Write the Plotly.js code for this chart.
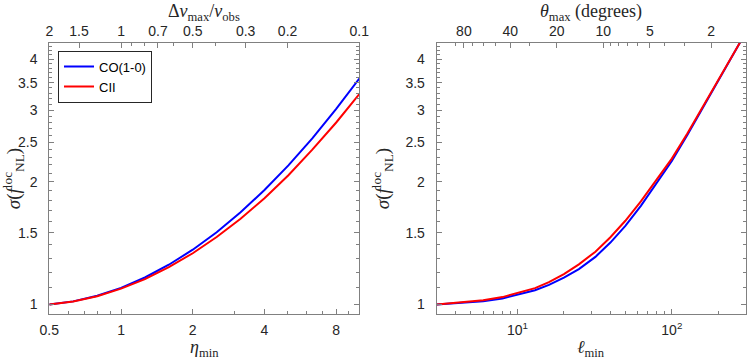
<!DOCTYPE html>
<html>
<head>
<meta charset="utf-8">
<script src="https://cdn.plot.ly/plotly-3.0.1.min.js"></script>
<style>
  html, body { margin: 0; padding: 0; background: #fff; }
  #chart { width: 747px; height: 359px; }
</style>
</head>
<body>
<div id="chart"></div>
<script>
// Left panel: sigma(fNL) against eta_min
const eta = [0.5, 0.63, 0.794, 1, 1.26, 1.587, 2, 2.52, 3.175, 4, 5.04, 6.35, 8, 10];
const sigmaCO = [1.000, 1.018, 1.051, 1.099, 1.165, 1.252, 1.363, 1.504, 1.684, 1.909, 2.194, 2.557, 3.018, 3.584];
const sigmaCII = [1.000, 1.018, 1.048, 1.094, 1.154, 1.235, 1.336, 1.464, 1.623, 1.823, 2.076, 2.398, 2.796, 3.283];

// Right panel: sigma(fNL) against ell_min
const ell = [3, 4, 5, 6, 8, 10, 13, 16, 20, 25, 32, 40, 50, 63, 80, 100, 126, 158, 200, 251, 280];
const sigmaCOell = [1.000, 1.007, 1.012, 1.019, 1.035, 1.057, 1.084, 1.117, 1.164, 1.222, 1.309, 1.419, 1.560, 1.746, 1.986, 2.249, 2.606, 3.027, 3.532, 4.111, 4.43];
const sigmaCIIell = [1.000, 1.009, 1.016, 1.024, 1.043, 1.066, 1.097, 1.135, 1.188, 1.255, 1.348, 1.462, 1.605, 1.790, 2.025, 2.280, 2.628, 3.040, 3.540, 4.111, 4.43];

// Tick labels
const etaTicks = [0.5, 1, 2, 4, 8];
const etaMinor = [0.6, 0.7, 0.8, 0.9, 3, 5, 6, 7, 9];
const dnuLabels = [2, 1.5, 1, 0.7, 0.5, 0.3, 0.2, 0.1];
const dnuMinor = [0.4, 0.6, 0.8, 0.9];
const ellTicks = [10, 100];
const ellMinor = [4, 5, 6, 7, 8, 9, 20, 30, 40, 50, 60, 70, 80, 90, 200];
const thetaLabels = [80, 40, 20, 10, 5, 2];
const thetaMinor = [90, 70, 60, 50, 30, 9, 8, 7, 6, 4, 3];
const sigmaTicks = [1, 1.5, 2, 2.5, 3, 3.5, 4];
const sigmaMinor = [];
for (let v = 10; v <= 43; v++) if (v % 5) sigmaMinor.push(v / 10);

const LINE = "#808080", TXT = "#262626";
const tickFont = { family: "Liberation Sans, Arial, sans-serif", size: 14, color: TXT };
const titleFont = { family: "Liberation Serif, Times New Roman, serif", size: 18, color: TXT };
const sigmaRange = [Math.log10(0.948), Math.log10(4.38)];
const LEFT_DOM = [0.066, 0.481], RIGHT_DOM = [0.5846, 0.998];
const PLOT_H = 359 - 43 - 45;

function xBase(extra) {
  return Object.assign({
    type: "log", showline: true, linecolor: LINE, linewidth: 1,
    ticks: "inside", ticklen: 5, tickcolor: LINE, showgrid: false, zeroline: false,
    tickfont: tickFont, ticklabelstandoff: 3, fixedrange: true,
  }, extra);
}
function yBase(extra) {
  return Object.assign({
    type: "log", range: sigmaRange, showline: true, linecolor: LINE, linewidth: 1,
    mirror: "ticks", ticks: "inside", ticklen: 5, tickcolor: LINE,
    showgrid: false, zeroline: false, tickfont: tickFont,
    tickvals: sigmaTicks, ticktext: sigmaTicks.map(String), ticklabelstandoff: 8,
    minor: { tickvals: sigmaMinor, ticks: "inside", ticklen: 3, tickcolor: LINE },
    title: { text: "<i>σ</i>(<i>f</i><sup>loc</sup><sub>NL</sub>)", font: Object.assign({}, titleFont, { size: 19 }) },
  }, extra);
}

// axis titles placed as annotations (centre y in page pixels)
function axisTitle(text, dom, yPx) {
  return {
    text, font: titleFont, showarrow: false,
    xref: "paper", yref: "paper", x: (dom[0] + dom[1]) / 2,
    y: (359 - 45 - yPx) / PLOT_H, xanchor: "center", yanchor: "middle",
  };
}

const traces = [
  { x: eta, y: sigmaCO, name: "CO(1-0)", mode: "lines", line: { color: "#0000ff", width: 2 }, xaxis: "x", yaxis: "y" },
  { x: eta, y: sigmaCII, name: "CII", mode: "lines", line: { color: "#ff0000", width: 2 }, xaxis: "x", yaxis: "y" },
  { x: ell, y: sigmaCOell, name: "CO(1-0)", mode: "lines", line: { color: "#0000ff", width: 2 }, xaxis: "x2", yaxis: "y2", showlegend: false },
  { x: ell, y: sigmaCIIell, name: "CII", mode: "lines", line: { color: "#ff0000", width: 2 }, xaxis: "x2", yaxis: "y2", showlegend: false },
  // empty carriers so the top axes get drawn
  { x: eta, y: sigmaCO, mode: "none", xaxis: "x3", yaxis: "y", showlegend: false, hoverinfo: "skip" },
  { x: ell, y: sigmaCOell, mode: "none", xaxis: "x4", yaxis: "y2", showlegend: false, hoverinfo: "skip" },
];

const layout = {
  width: 747, height: 359, autosize: false,
  margin: { l: 0, r: 0, t: 43, b: 45 },
  paper_bgcolor: "#fff", plot_bgcolor: "#fff",
  showlegend: true,
  legend: {
    x: 58 / 747, y: 0.972, xanchor: "left", yanchor: "top",
    bgcolor: "#fff", bordercolor: TXT, borderwidth: 1,
    font: { family: "Liberation Sans, Arial, sans-serif", size: 13, color: "#000" },
    itemwidth: 30, tracegroupgap: 0,
  },
  xaxis: xBase({
    domain: LEFT_DOM, anchor: "y",
    range: [Math.log10(0.5), 1],
    tickvals: etaTicks, ticktext: etaTicks.map(String),
    minor: { tickvals: etaMinor, ticks: "inside", ticklen: 3, tickcolor: LINE },
  }),
  xaxis3: xBase({
    overlaying: "x", side: "top", anchor: "y", ticklabelstandoff: 0,
    range: [Math.log10(0.5), 1],
    tickvals: dnuLabels.map(d => 1 / d), ticktext: dnuLabels.map(String),
    minor: { tickvals: dnuMinor.map(d => 1 / d), ticks: "inside", ticklen: 3, tickcolor: LINE },
  }),
  yaxis: yBase({ domain: [0, 1], anchor: "x" }),
  xaxis2: xBase({
    domain: RIGHT_DOM, anchor: "y2",
    range: [Math.log10(3), Math.log10(300)],
    tickvals: ellTicks, ticktext: ["10<sup>1</sup>", "10<sup>2</sup>"],
    minor: { tickvals: ellMinor, ticks: "inside", ticklen: 3, tickcolor: LINE },
  }),
  xaxis4: xBase({
    overlaying: "x2", side: "top", anchor: "y2", ticklabelstandoff: 0,
    range: [Math.log10(3), Math.log10(300)],
    tickvals: thetaLabels.map(t => 360 / t), ticktext: thetaLabels.map(String),
    minor: { tickvals: thetaMinor.map(t => 360 / t), ticks: "inside", ticklen: 3, tickcolor: LINE },
  }),
  yaxis2: yBase({ domain: [0, 1], anchor: "x2" }),
  annotations: [
    axisTitle("Δ<i>ν</i><sub>max</sub>/<i>ν</i><sub>obs</sub>", LEFT_DOM, 12),
    axisTitle("<i>θ</i><sub>max</sub> (degrees)", RIGHT_DOM, 12),
    axisTitle("<i>η</i><sub>min</sub>", LEFT_DOM, 348),
    axisTitle("<i>ℓ</i><sub>min</sub>", RIGHT_DOM, 348),
  ],
};

Plotly.newPlot("chart", traces, layout, { staticPlot: true, displayModeBar: false });
</script>
</body>
</html>
